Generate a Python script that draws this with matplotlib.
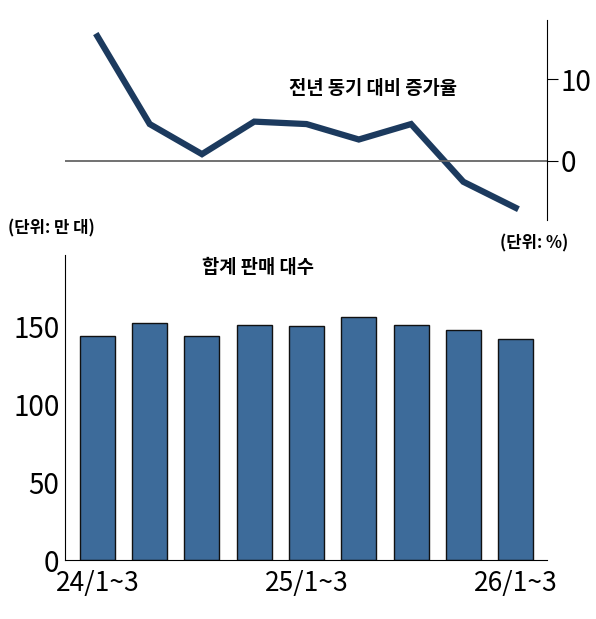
import matplotlib
matplotlib.use("Agg")
import matplotlib.pyplot as plt
import numpy as np

plt.rcParams['font.family'] = ['Noto Sans CJK KR', 'DejaVu Sans']

growth = [15.3, 4.5, 0.8, 4.8, 4.5, 2.6, 4.5, -2.6, -5.8]
sales = [144, 152, 144, 151, 150.5, 156, 151, 148, 142]
xlabels = ['24/1~3', '', '', '', '25/1~3', '', '', '', '26/1~3']
x = np.arange(len(sales))

W, H = 596, 619
fig = plt.figure(figsize=(W/100, H/100), dpi=100)
fx = lambda p: p / W
fy = lambda p: 1 - p / H

xl = (-0.62, 8.6)
# top line chart
ax1 = fig.add_axes([fx(65), fy(220), fx(547-65), fy(20)-fy(220)])
ax1.plot(x, growth, color='#1c3a5e', lw=4.5, solid_joinstyle='miter')
ax1.axhline(0, color='#666666', lw=1.3)
ax1.set_xlim(xl)
ax1.set_ylim(-7.3, 17.3)
for s in ['top', 'left', 'bottom']:
    ax1.spines[s].set_visible(False)
ax1.yaxis.tick_right()
ax1.set_yticks([0, 10])
ax1.tick_params(axis='y', direction='out', length=8, labelsize=20, pad=2)
ax1.set_xticks([])
ax1.text(0.64, 0.63, '전년 동기 대비 증가율', transform=ax1.transAxes, ha='center',
         fontsize=13.5, fontweight='bold')
fig.text(fx(500), fy(243), '(단위: %)', fontsize=12, fontweight='bold', va='center')
fig.text(fx(8), fy(228), '(단위: 만 대)', fontsize=12, fontweight='bold', va='center')

# bottom bar chart
ax2 = fig.add_axes([fx(65), fy(560), fx(547-65), fy(255)-fy(560)])
ax2.bar(x, sales, width=0.67, color='#3d6b9a', edgecolor='#111111', lw=1)
ax2.set_xlim(xl)
ax2.set_ylim(0, 196)
for s in ['top', 'right']:
    ax2.spines[s].set_visible(False)
ax2.set_yticks([0, 50, 100, 150])
ax2.set_xticks(x)
ax2.set_xticklabels(xlabels)
ax2.tick_params(axis='x', length=0, labelsize=19, pad=7)
ax2.tick_params(axis='y', length=0, labelsize=20, pad=4)
ax2.text(0.4, 0.94, '합계 판매 대수', transform=ax2.transAxes, ha='center',
         fontsize=13.5, fontweight='bold')
fig.savefig('out.png', dpi=100)
